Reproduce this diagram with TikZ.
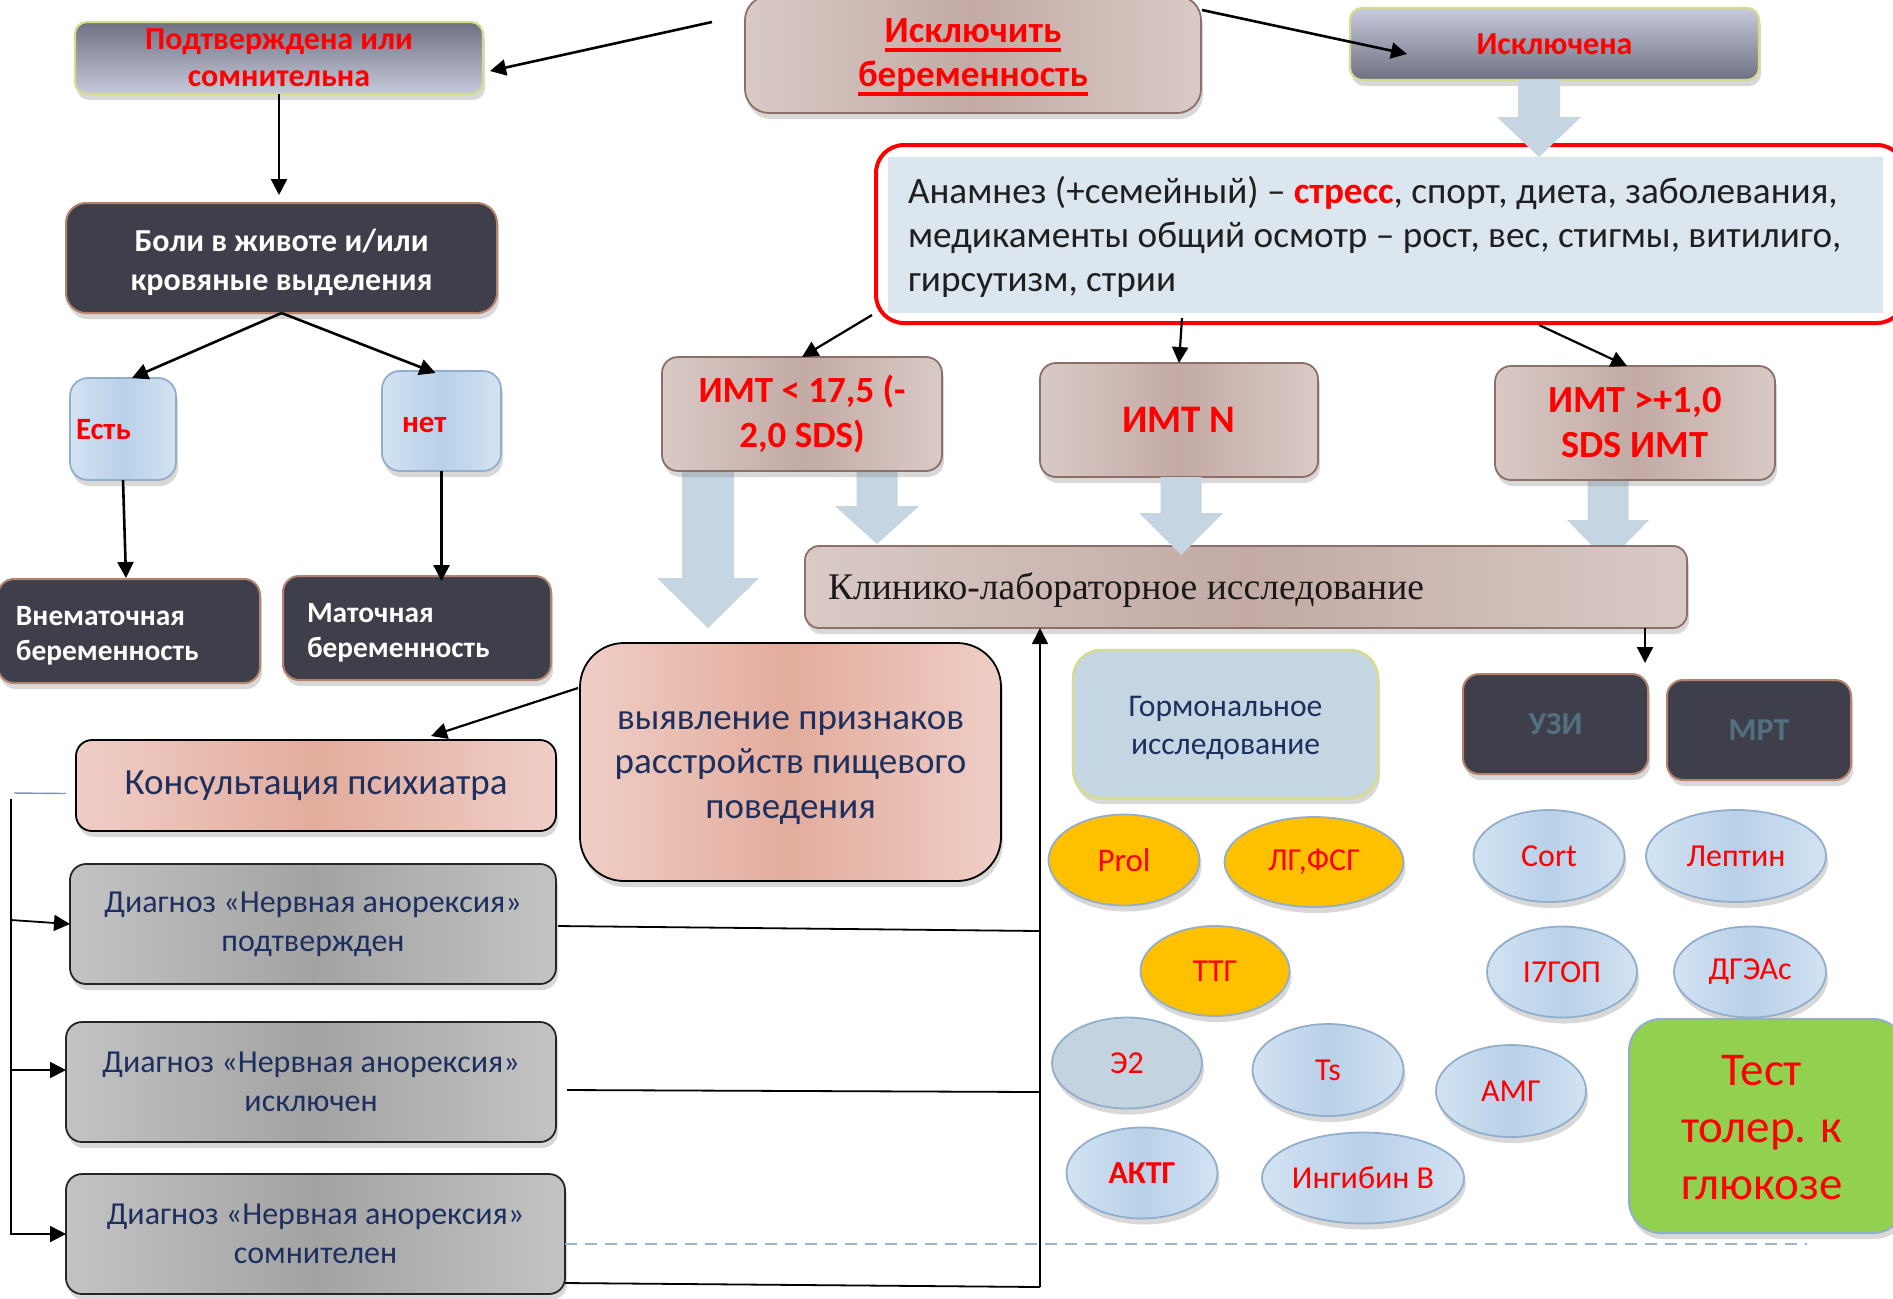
\documentclass[tikz,border=0pt]{standalone}
\usepackage{fontspec}
\setmainfont{Carlito}
\newfontfamily\serifrm{Liberation Serif}
\usetikzlibrary{shapes.geometric,arrows.meta,shadows,calc}
\definecolor{gbdark}{HTML}{6F7182}
\definecolor{gblight}{HTML}{C7CADC}
\definecolor{ygborder}{HTML}{D5DC8E}
\definecolor{rosymid}{HTML}{C3AAA4}
\definecolor{rosyedge}{HTML}{D9CAC6}
\definecolor{rosyborder}{HTML}{8C6F69}
\definecolor{slate}{HTML}{3F3F4B}
\definecolor{slateborder}{HTML}{B5826E}
\definecolor{lbmid}{HTML}{B8D0E8}
\definecolor{lbedge}{HTML}{D3E3F3}
\definecolor{lbborder}{HTML}{93AECB}
\definecolor{salmid}{HTML}{E3AC9D}
\definecolor{saledge}{HTML}{EFCEC6}
\definecolor{graymid}{HTML}{A3A3A3}
\definecolor{grayedge}{HTML}{C3C3C3}
\definecolor{navy}{HTML}{1C2F5E}
\definecolor{blockblue}{HTML}{C5D5E2}
\definecolor{anamfill}{HTML}{DCE6EF}
\definecolor{gormfill}{HTML}{C5D6E3}
\definecolor{orangey}{HTML}{FFC000}
\definecolor{greeny}{HTML}{92D050}
\definecolor{tealgray}{HTML}{52707F}
\definecolor{etwofill}{HTML}{C3D3E0}
\definecolor{dashblue}{HTML}{9AB4CE}
\definecolor{shortline}{HTML}{8090B5}
\definecolor{rd}{HTML}{FF0000}
\newcommand\fsz[2]{\fontsize{#1}{#2}\selectfont}
\newcommand\redul[1]{\setbox0\hbox{#1}\rlap{\rule[-4.5pt]{\wd0}{1.6pt}}\box0}
\newcommand\barrow[6]{\fill[blockblue] (#1-#5,#2) -- (#1+#5,#2) -- (#1+#5,#3) -- (#1+#6,#3) -- (#1,#4) -- (#1-#6,#3) -- (#1-#5,#3) -- cycle;}
\begin{document}
\begin{tikzpicture}[x=0.5pt, y=-0.5pt,
 every node/.style={inner sep=0pt, outer sep=0pt},
 wh/.style 2 args={minimum width=#1*0.5pt, minimum height=#2*0.5pt},
 shad/.style={drop shadow={shadow xshift=1pt, shadow yshift=-3pt, opacity=0.3}},
 gbbox/.style={rounded corners=6pt, draw=ygborder, line width=1.1pt, shad, align=center, text=rd},
 rosy/.style={rounded corners=8pt, draw=rosyborder, line width=0.9pt, left color=rosyedge, right color=rosyedge, middle color=rosymid, shad, align=center},
 slatebox/.style={rounded corners=8pt, draw=slateborder, line width=1pt, fill=slate, shad, text=white, align=center},
 lbbox/.style={rounded corners=9pt, draw=lbborder, line width=0.9pt, left color=lbedge, right color=lbedge, middle color=lbmid, shad},
 salbox/.style={draw=black, line width=0.9pt, left color=saledge, right color=saledge, middle color=salmid, shad, align=center, text=navy},
 graybox/.style={rounded corners=8pt, draw=black!85, line width=0.9pt, left color=grayedge, right color=grayedge, middle color=graymid, shad, align=center, text=navy, font=\fsz{16}{19.5}},
 ell/.style={ellipse, draw=lbborder, line width=0.9pt, shad, text=rd, font=\fsz{16}{19}},
 ellb/.style={ell, left color=lbedge, right color=lbedge, middle color=lbmid},
 ello/.style={ell, fill=orangey},
 arr/.style={-{Triangle[length=8pt,width=8pt]}, line width=1.3pt},
 thinln/.style={line width=0.9pt},
]
\useasboundingbox (0,0) rectangle (1893,1298);
\clip (0,0) rectangle (1893,1298);
\fill[white] (0,0) rectangle (1893,1298);

% block arrows behind boxes
\barrow{708}{471}{578}{628}{26}{51}
\barrow{877}{471}{506}{544}{20.5}{42}
\barrow{1608}{480}{520}{562}{20.5}{41}

% top row
\node[gbbox, top color=gbdark, bottom color=gblight, font=\bfseries\fsz{16}{18.5}, wh={408}{72}] (podt) at (279,58) {Подтверждена или\\сомнительна};
\node[rosy, rounded corners=12pt, wh={456}{117}] (isk) at (973,54.5) {};
\node[text=rd, align=center, font=\bfseries\fsz{18.5}{22}] (iskt) at (973,57) {\redul{Исключить}\\\redul{беременность}};
\node[gbbox, top color=gblight, bottom color=gbdark, font=\bfseries\fsz{16}{19}, wh={409}{72}] (iskd) at (1554.5,44) {Исключена};

% left tree
\node[slatebox, rounded corners=10pt, wh={431}{110}] (boli) at (281.5,258) {};
\node[text=white, align=center, font=\bfseries\fsz{16}{19.5}] (bolit) at (281.5,262) {Боли в животе и/или\\кровяные выделения};
\node[lbbox, wh={106}{102}] (est) at (123,429) {};
\node[anchor=west, text=rd, font=\bfseries\fsz{15.5}{18}] (estt) at (76,430) {Есть};
\node[lbbox, wh={119}{100}] (net) at (441.5,421) {};
\node[anchor=west, text=rd, font=\bfseries\fsz{15.5}{18}] (nett) at (402,425) {нет};
\node[slatebox, wh={262}{104}] (vnem) at (129,631) {};
\node[anchor=west, align=left, text=white, font=\bfseries\fsz{14.7}{17.5}] (vnemt) at (16,636) {Внематочная\\беременность};
\node[slatebox, wh={268}{104}] (mat) at (417,628) {};
\node[anchor=west, align=left, text=white, font=\bfseries\fsz{14.7}{17.5}] (matt) at (307,633) {Маточная\\беременность};

% anamnesis
\node[draw=rd, line width=2pt, rounded corners=14pt, fill=white, wh={1029}{178}] (anam) at (1390.5,234) {};
\node[fill=anamfill, wh={995}{156}] (anamin) at (1385.5,235) {};
\node[anchor=west, align=left, font=\fsz{18.6}{22}, text=black!88] (anamt) at (908,237) {Анамнез (+семейный) – {\bfseries\color{rd}стресс}, спорт, диета, заболевания,\\медикаменты общий осмотр – рост, вес, стигмы, витилиго,\\гирсутизм, стрии};

% BMI boxes
\node[rosy, text=rd, font=\bfseries\fsz{18.5}{22.5}, wh={280}{114}] (imta) at (802,414) {ИМТ < 17,5 (-\\2,0 SDS)};
\node[rosy, text=rd, font=\bfseries\fsz{19.5}{22}, wh={278}{114}] (imtn) at (1179,420) {ИМТ N};
\node[rosy, text=rd, font=\bfseries\fsz{19.2}{22.5}, wh={280}{114}] (imtc) at (1635,423) {ИМТ >+1,0\\SDS ИМТ};

% clinical
\node[rosy, rounded corners=7pt, wh={882}{82}] (klin) at (1246,587) {};
\node[anchor=west, font=\serifrm\fsz{18.8}{22}, text=black!90] (klint) at (828,590) {Клинико-лабораторное исследование};

% block arrows on top
\barrow{1539}{80}{117}{157}{21}{42}
\barrow{1181}{477}{513}{555}{20.5}{42}

% eating disorder
\node[salbox, rounded corners=22pt, wh={421}{238}] (vyyav) at (790.5,762) {};
\node[text=navy, align=center, font=\fsz{18.5}{22.3}] (vyyavt) at (790.5,768) {выявление признаков\\расстройств пищевого\\поведения};
\node[salbox, rounded corners=8pt, font=\fsz{18.5}{22}, wh={480}{91}] (kons) at (316,785.5) {Консультация психиатра};
\node[graybox, wh={486}{120}] (d1) at (313,924) {Диагноз «Нервная анорексия»\\подтвержден};
\node[graybox, wh={490}{120}] (d2) at (311,1082) {Диагноз «Нервная анорексия»\\исключен};
\node[graybox, wh={499}{120}] (d3) at (315.5,1234) {Диагноз «Нервная анорексия»\\сомнителен};

% hormones
\node[rounded corners=14pt, draw=ygborder, line width=1.2pt, fill=gormfill, shad, wh={305}{148}] (gorm) at (1225.5,724) {};
\node[align=center, text=navy, font=\fsz{15.8}{19}] (gormt) at (1225.5,728) {Гормональное\\исследование};
\node[slatebox, text=tealgray, font=\bfseries\fsz{16}{19}, wh={185}{100}] (uzi) at (1555.5,724) {УЗИ};
\node[slatebox, text=tealgray, font=\bfseries\fsz{16}{19}, wh={184}{100}] (mrt) at (1759,730) {МРТ};

\node[ello, font=\fsz{16.5}{19}, wh={151}{91}] (prol) at (1124,860) {Prol};
\node[ello, wh={179}{90}] (lgfsg) at (1314,862) {ЛГ,ФСГ};
\node[ello, wh={149}{90}] (ttg) at (1215,971) {ТТГ};
\node[ell, fill=etwofill, wh={150}{91}] (etwo) at (1127,1063) {Э2};
\node[ellb, wh={151}{92}] (ts) at (1328,1070) {Ts};
\node[ellb, font=\bfseries\fsz{16}{19}, wh={151}{91}] (aktg) at (1142,1173) {АКТГ};
\node[ellb, wh={202}{91}] (ingib) at (1363,1178) {Ингибин В};
\node[ellb, wh={150}{92}] (amg) at (1511,1091) {АМГ};
\node[ellb, wh={151}{92}] (cort) at (1549,856) {Cort};
\node[ellb, wh={180}{92}] (lept) at (1736,856) {Лептин};
\node[ellb, wh={150}{91}] (igop) at (1562,972) {I7ГОП};
\node[ellb, wh={152}{91}] (dgea) at (1750,972) {ДГЭАс};
\node[rounded corners=16pt, draw=lbborder, line width=1pt, fill=greeny, shad, wh={276}{214}] (gtt) at (1767,1126) {};
\node[align=center, text=rd, font=\fsz{23.5}{28.5}] (gttt) at (1762,1128) {Тест\\толер. к\\глюкозе};

% connectors
\draw[arr] ($(isk.west)+(-33,-32.5)$) -- ($(podt.east)+(7,13)$);
\draw[arr] ($(isk.east)+(1,-44.5)$) -- ($(iskd.west)+(57,10)$);
\draw[arr, shorten >=4pt] (podt.south) -- (podt.south |- boli.north);
\draw[arr] (boli.south) -- ($(est.north)+(9,0)$);
\draw[arr] (boli.south) -- ($(net.north)+(-6,2)$);
\draw[arr] (est.south) -- ($(est.south |- vnem.north)+(3,-1)$);
\draw[arr] (net.south) -- ($(net.south |- mat.north)+(0,5)$);

\draw[arr, line width=1.1pt] ($(anam.south west)+(-4,-8)$) -- (imta.north);
\draw[arr, line width=1.1pt] ($(imtn.north |- anamin.south)+(3,5)$) -- (imtn.north);
\draw[arr, line width=1.1pt] ($(anam.south)+(148.5,2)$) -- ($(imtc.north)+(-8,0)$);

\coordinate (uzt) at ($(uzi.north east)+(-3,-11)$);
\draw[arr, line width=1.1pt] (klin.south -| uzt) -- (uzt);

\draw[arr, line width=1.1pt] ($(vyyav.north west)+(-2,45)$) -- ($(kons.north)+(115,-4)$);

\coordinate (vb) at (1040,1287);
\draw[thinln] ($(d3.south east)+(0,-11)$) -- (vb);
\draw[arr, line width=0.9pt] (vb) -- (klin.south -| vb);
\draw[thinln] ($(d1.east)+(2,2)$) -- ($(d1.east -| vb)+(0,7)$);
\draw[thinln] ($(d2.east)+(11,8)$) -- ($(d2.east -| vb)+(0,10)$);

\coordinate (lt) at (11,799);
\coordinate (sl) at (14,793);
\draw[shortline, line width=0.7pt] (sl) -- ($(kons.west)+(-10,8)$);
\draw[arr, line width=0.9pt] (lt) |- (d3.west);
\draw[arr, line width=0.9pt] ($(lt |- d1.west)+(0,-4)$) -- (d1.west);
\draw[arr, line width=0.9pt] ($(lt |- d2.west)+(0,-12)$) -- ($(d2.west)+(0,-12)$);

\coordinate (de) at (1807,1244);
\draw[dashblue, line width=0.8pt, dash pattern=on 6pt off 4pt] ($(d3.east)+(0,10)$) -- (de);
\end{tikzpicture}
\end{document}
